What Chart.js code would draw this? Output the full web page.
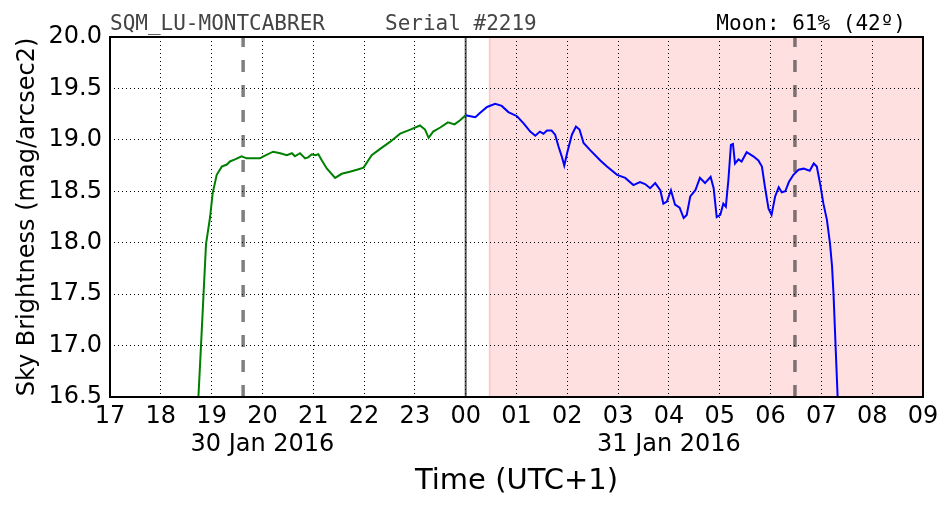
<!DOCTYPE html>
<html>
<head>
<meta charset="utf-8">
<script src="https://cdn.jsdelivr.net/npm/chart.js@4/dist/chart.umd.min.js"></script>
<style>
  html, body { margin: 0; padding: 0; background: #fff; }
  #wrap { width: 952px; height: 512px; }
</style>
</head>
<body>
<div id="wrap"><canvas id="c" width="952" height="512"></canvas></div>
<script>
// ---- data (hours after midnight of 30 Jan; 24 = 00h of 31 Jan) ----
const eveningHours = [18.74,18.79,18.84,18.89,18.97,19.02,19.10,19.20,19.30,19.36,19.46,19.59,19.69,19.85,19.95,20.02,20.21,20.35,20.48,20.58,20.64,20.74,20.84,20.90,20.97,21.04,21.10,21.17,21.27,21.43,21.56,21.72,21.86,21.99,22.15,22.31,22.51,22.71,22.91,23.10,23.20,23.27,23.36,23.50,23.65,23.78,23.89,24.00];
const eveningMag = [16.50,16.99,17.49,17.99,18.25,18.48,18.66,18.74,18.76,18.79,18.81,18.84,18.82,18.82,18.82,18.84,18.885,18.87,18.85,18.87,18.84,18.87,18.82,18.83,18.86,18.85,18.86,18.80,18.72,18.63,18.67,18.69,18.71,18.73,18.85,18.91,18.98,19.06,19.10,19.14,19.10,19.02,19.08,19.12,19.17,19.15,19.19,19.24];

const nightHours = [24.00,24.09,24.19,24.28,24.42,24.58,24.71,24.84,25.01,25.14,25.27,25.37,25.46,25.53,25.60,25.69,25.76,25.83,25.89,25.94,26.00,26.09,26.17,26.24,26.32,26.45,26.65,26.78,26.98,27.14,27.30,27.43,27.53,27.63,27.73,27.83,27.89,27.96,28.04,28.12,28.21,28.29,28.35,28.42,28.52,28.61,28.71,28.82,28.88,28.94,29.01,29.07,29.12,29.17,29.22,29.26,29.30,29.37,29.43,29.53,29.66,29.76,29.83,29.89,29.96,30.02,30.09,30.16,30.22,30.29,30.36,30.45,30.55,30.65,30.77,30.85,30.91,30.98,31.04,31.11,31.17,31.21,31.24,31.28,31.32];
const nightMag = [19.24,19.23,19.22,19.26,19.32,19.35,19.33,19.27,19.23,19.16,19.08,19.04,19.08,19.06,19.09,19.09,19.05,18.93,18.84,18.75,18.88,19.05,19.13,19.10,18.97,18.90,18.80,18.74,18.66,18.63,18.56,18.59,18.57,18.53,18.58,18.51,18.38,18.40,18.51,18.37,18.34,18.24,18.27,18.45,18.51,18.63,18.58,18.64,18.53,18.25,18.27,18.38,18.35,18.61,18.95,18.96,18.77,18.81,18.79,18.88,18.84,18.80,18.74,18.54,18.33,18.27,18.45,18.54,18.49,18.50,18.59,18.66,18.71,18.72,18.70,18.77,18.74,18.56,18.38,18.22,17.99,17.77,17.49,16.99,16.50];

const hourTickLabels = ['17','18','19','20','21','22','23','00','01','02','03','04','05','06','07','08','09'];
const dateTickHours = [20, 28];
const dateTickLabels = ['30 Jan 2016', '31 Jan 2016'];
const yTickValues = [16.5, 17.0, 17.5, 18.0, 18.5, 19.0, 19.5, 20.0];

const moonHours = [19.62, 30.48];   // dashed grey markers
const midnightHour = 24;
const shadeStartHour = 24.47;
const shadeEndHour = 33;

const leftHeader = 'SQM_LU-MONTCABRER';
const midHeader = 'Serial #2219';
const rightHeader = 'Moon: 61% (42º)';

const toPts = (xs, ys) => xs.map((x, i) => ({x, y: ys[i]}));

// ---- plugins ----
const decor = {
  id: 'decor',
  beforeDraw(chart) {
    const {ctx, chartArea: a, scales: {x}} = chart;
    ctx.save();
    ctx.fillStyle = '#fff';
    ctx.fillRect(0, 0, chart.width, chart.height);
    const x0 = x.getPixelForValue(shadeStartHour), x1 = x.getPixelForValue(shadeEndHour);
    ctx.fillStyle = 'rgba(255,0,0,0.12)';
    ctx.fillRect(x0, a.top, x1 - x0, a.bottom - a.top);
    ctx.strokeStyle = 'rgba(255,0,0,0.18)';
    ctx.lineWidth = 1.5;
    ctx.beginPath(); ctx.moveTo(x0, a.top); ctx.lineTo(x0, a.bottom); ctx.stroke();
    ctx.restore();
  },
  beforeDatasetsDraw(chart) {
    const {ctx, chartArea: a, scales: {x}} = chart;
    ctx.save();
    ctx.strokeStyle = 'rgba(0,0,0,0.5)';
    ctx.lineWidth = 3.5;
    ctx.setLineDash([12, 13]);
    moonHours.forEach(h => {
      const px = x.getPixelForValue(h);
      ctx.beginPath(); ctx.moveTo(px, a.bottom); ctx.lineTo(px, a.top); ctx.stroke();
    });
    ctx.setLineDash([]);
    ctx.strokeStyle = 'rgba(0,0,0,0.65)';
    ctx.lineWidth = 2;
    const mx = x.getPixelForValue(midnightHour);
    ctx.beginPath(); ctx.moveTo(mx, a.top); ctx.lineTo(mx, a.bottom); ctx.stroke();
    ctx.restore();
  },
  afterDraw(chart) {
    const {ctx, chartArea: a} = chart;
    ctx.save();
    ctx.strokeStyle = '#000';
    ctx.lineWidth = 2;
    ctx.strokeRect(a.left, a.top, a.right - a.left, a.bottom - a.top);
    ctx.font = '21px "DejaVu Sans Mono", monospace';
    ctx.textBaseline = 'alphabetic';
    ctx.fillStyle = '#444';
    ctx.textAlign = 'left';
    ctx.fillText(leftHeader, a.left, 30);
    ctx.fillText(midHeader, 385, 30);
    ctx.fillStyle = '#000';
    ctx.textAlign = 'right';
    ctx.fillText(rightHeader, 906, 30);
    ctx.restore();
  }
};

new Chart(document.getElementById('c'), {
  type: 'line',
  data: {
    datasets: [
      { data: toPts(eveningHours, eveningMag), borderColor: '#008000', borderWidth: 2, pointRadius: 0, tension: 0, fill: false },
      { data: toPts(nightHours, nightMag), borderColor: '#0000ff', borderWidth: 2, pointRadius: 0, tension: 0, fill: false }
    ]
  },
  options: {
    responsive: false,
    animation: false,
    events: [],
    layout: { padding: { top: 37, right: 29, left: 0, bottom: 0 } },
    plugins: { legend: { display: false }, tooltip: { enabled: false } },
    scales: {
      x: {
        type: 'linear', min: 17, max: 33,
        afterFit(s) { s.height = 115; },
        afterBuildTicks(s) { s.ticks = hourTickLabels.map((_, i) => ({value: 17 + i})); },
        ticks: {
          autoSkip: false, maxRotation: 0, padding: 5, color: '#000',
          font: { family: '"DejaVu Sans", sans-serif', size: 24 },
          callback(v) {
            const lab = hourTickLabels[Math.round(v) - 17];
            const di = dateTickHours.indexOf(Math.round(v));
            return di >= 0 ? [lab, dateTickLabels[di]] : lab;
          }
        },
        grid: { color: '#000', lineWidth: 1, drawTicks: false },
        border: { display: false, dash: [1, 3] },
        title: { display: true, text: 'Time (UTC+1)', color: '#000', font: { family: '"DejaVu Sans", sans-serif', size: 29 }, padding: { top: 0, bottom: 13 } }
      },
      y: {
        type: 'linear', min: 16.5, max: 20,
        afterFit(s) { s.width = 110; },
        afterBuildTicks(s) { s.ticks = yTickValues.map(v => ({value: v})); },
        ticks: {
          padding: 8, color: '#000',
          font: { family: '"DejaVu Sans", sans-serif', size: 24 },
          callback(v) { return Number(v).toFixed(1); }
        },
        grid: { color: '#000', lineWidth: 1, drawTicks: false },
        border: { display: false, dash: [1, 3] },
        title: { display: true, text: 'Sky Brightness (mag/arcsec2)', color: '#000', font: { family: '"DejaVu Sans", sans-serif', size: 24 }, padding: { top: 13, bottom: 0 } }
      }
    }
  },
  plugins: [decor]
});
</script>
</body>
</html>
